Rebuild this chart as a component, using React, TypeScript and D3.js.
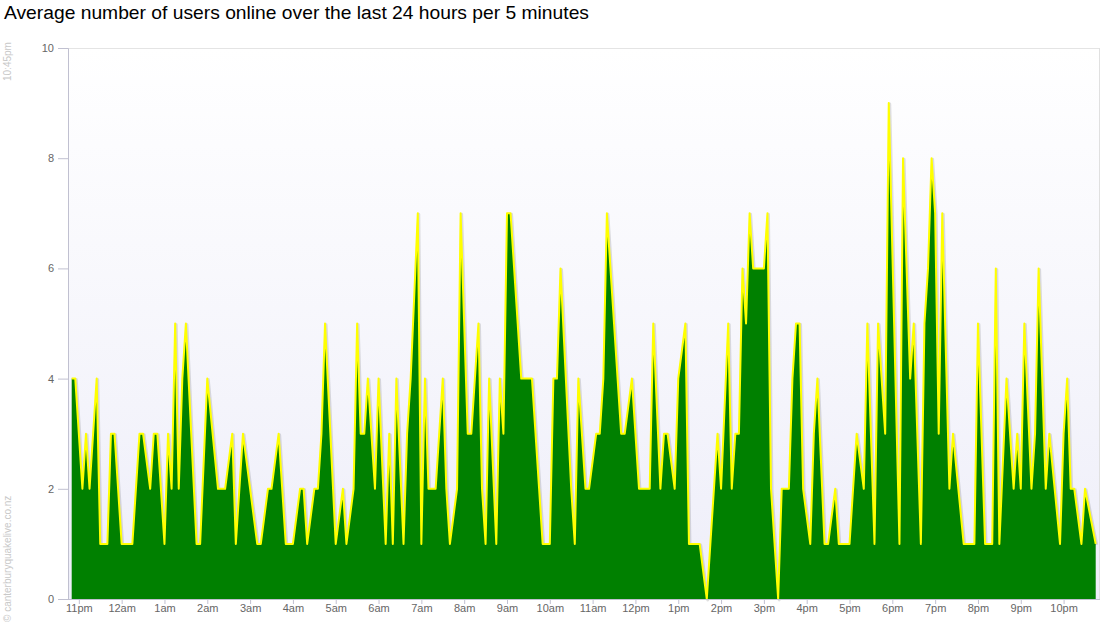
import React, { useEffect, useRef } from 'react';
import * as d3 from 'd3';

// 5-minute interval index counted from 10:50pm, and the average users read at that interval
const slots = [0, 1, 3, 4, 5, 7, 8, 10, 11, 12, 14, 17, 19, 20, 22, 23, 24, 26, 27, 28, 29, 30, 31, 32, 35, 36, 38, 41, 43, 45, 46, 48, 52, 53, 55, 56, 58, 60, 62, 64, 65, 66, 68, 69, 70, 71, 74, 76, 77, 79, 80, 81, 82, 83, 85, 86, 88, 89, 90, 91, 93, 94, 95, 97, 98, 99, 100, 102, 104, 105, 106, 108, 109, 111, 112, 114, 115, 116, 117, 119, 120, 121, 122, 123, 126, 129, 131, 132, 134, 135, 136, 137, 140, 141, 142, 144, 145, 147, 148, 149, 150, 152, 154, 155, 157, 159, 162, 163, 165, 166, 167, 169, 170, 172, 173, 176, 178, 179, 181, 182, 184, 185, 186, 187, 188, 189, 190, 191, 194, 195, 196, 198, 199, 201, 202, 203, 204, 205, 207, 208, 209, 211, 212, 214, 215, 218, 219, 220, 222, 223, 225, 226, 228, 229, 232, 233, 235, 236, 238, 239, 240, 241, 242, 243, 244, 246, 247, 250, 253, 254, 256, 258, 259, 260, 262, 264, 265, 266, 267, 269, 270, 271, 273, 274, 277, 278, 279, 280, 281, 283, 284, 287];
const users = [4, 4, 2, 3, 2, 4, 1, 1, 3, 3, 1, 1, 3, 3, 2, 3, 3, 1, 3, 2, 5, 2, 4, 5, 1, 1, 4, 2, 2, 3, 1, 3, 1, 1, 2, 2, 3, 1, 1, 2, 2, 1, 2, 2, 3, 5, 1, 2, 1, 2, 5, 3, 3, 4, 2, 4, 1, 3, 1, 4, 1, 3, 4, 7, 1, 4, 2, 2, 4, 2, 1, 2, 7, 3, 3, 5, 2, 1, 4, 1, 4, 3, 7, 7, 4, 4, 2, 1, 1, 4, 4, 6, 2, 1, 4, 2, 2, 3, 3, 4, 7, 5, 3, 3, 4, 2, 2, 5, 2, 3, 3, 2, 4, 5, 1, 1, 0, 1, 3, 2, 5, 2, 3, 3, 6, 5, 7, 6, 6, 7, 2, 0, 2, 2, 4, 5, 5, 2, 1, 3, 4, 1, 1, 2, 1, 1, 2, 3, 2, 5, 1, 5, 3, 9, 1, 8, 4, 5, 1, 5, 6, 8, 7, 3, 7, 2, 3, 1, 1, 5, 1, 1, 6, 1, 4, 2, 3, 2, 5, 2, 3, 6, 2, 3, 1, 3, 4, 2, 2, 1, 2, 1];
const yTicks = [0, 2, 4, 6, 8, 10];

const title = 'Average number of users online over the last 24 hours per 5 minutes';
const start = new Date(2011, 1, 21, 22, 50);
const stepMs = 5 * 60 * 1000;

const hourLabel = (d: Date) => {
  const h = d.getHours();
  return `${h % 12 || 12}${h < 12 ? 'am' : 'pm'}`;
};

const App: React.FC = () => {
  const svgRef = useRef<SVGSVGElement>(null);
  const width = 1100;
  const height = 640;

  useEffect(() => {
    if (!svgRef.current) return;
    const svg = d3.select(svgRef.current);
    svg.selectAll('*').remove();

    const plot = { left: 68, right: 1100, top: 48, bottom: 599 };
    const data = slots.map((s, i) => ({ t: new Date(start.getTime() + s * stepMs), v: users[i] }));

    const x = d3.scaleTime()
      .domain([start, new Date(start.getTime() + 287 * stepMs)])
      .range([71.7, 1095.7]);
    const y = d3.scaleLinear().domain([0, 10]).range([plot.bottom, plot.top]);

    const font = '"Liberation Sans", Arial, sans-serif';

    // background gradient
    const grad = svg.append('defs').append('linearGradient')
      .attr('id', 'bg').attr('x1', 0).attr('y1', 0).attr('x2', 0).attr('y2', 1);
    grad.append('stop').attr('offset', '0%').attr('stop-color', '#ffffff');
    grad.append('stop').attr('offset', '100%').attr('stop-color', '#eeeef9');

    svg.append('rect')
      .attr('x', plot.left).attr('y', plot.top)
      .attr('width', plot.right - plot.left).attr('height', plot.bottom - plot.top)
      .attr('fill', 'url(#bg)');

    // top grid line and right border
    svg.append('line')
      .attr('x1', plot.left).attr('x2', plot.right)
      .attr('y1', y(10) + 0.5).attr('y2', y(10) + 0.5)
      .attr('stroke', '#e4e4e4');
    svg.append('line')
      .attr('x1', plot.right - 0.5).attr('x2', plot.right - 0.5)
      .attr('y1', plot.top).attr('y2', plot.bottom)
      .attr('stroke', '#e0e0e0');

    const line = d3.line<{ t: Date; v: number }>().x(d => x(d.t)).y(d => y(d.v));
    const area = d3.area<{ t: Date; v: number }>().x(d => x(d.t)).y0(y(0)).y1(d => y(d.v));

    // line shadow
    svg.append('path')
      .attr('d', line(data) || '')
      .attr('fill', 'none')
      .attr('stroke', '#000')
      .attr('stroke-opacity', 0.12)
      .attr('stroke-width', 3)
      .attr('stroke-linejoin', 'round')
      .attr('transform', 'translate(1,1)');

    svg.append('path')
      .attr('d', area(data) || '')
      .attr('fill', '#008000');

    svg.append('path')
      .attr('d', line(data) || '')
      .attr('fill', 'none')
      .attr('stroke', '#ffff00')
      .attr('stroke-width', 2)
      .attr('stroke-linejoin', 'round');

    // y axis
    const yAxis = svg.append('g').attr('transform', `translate(${plot.left},0)`)
      .call(d3.axisLeft(y).tickValues(yTicks).tickSize(10).tickPadding(4));
    yAxis.select('.domain').attr('stroke', '#c0c0d0');
    yAxis.selectAll('.tick line').attr('stroke', '#c0c0d0');
    yAxis.selectAll('.tick text')
      .attr('fill', '#666').style('font-family', font).style('font-size', '11px');

    // x axis
    const xAxis = svg.append('g').attr('transform', `translate(0,${plot.bottom})`)
      .call(d3.axisBottom(x).ticks(d3.timeHour.every(1)).tickFormat(d => hourLabel(d as Date)).tickSize(5).tickPadding(0).tickSizeOuter(0));
    xAxis.select('.domain').attr('stroke', '#c0c0d0').attr('d', `M${plot.left},0.5H${plot.right}`);
    xAxis.selectAll('.tick line').attr('stroke', '#c0c0d0');
    xAxis.selectAll('.tick text')
      .attr('fill', '#666').style('font-family', font).style('font-size', '11px');

    // title
    svg.append('text')
      .attr('x', 4).attr('y', 19)
      .style('font-family', font).style('font-size', '19.25px')
      .attr('fill', '#000')
      .text(title);

    // side notes
    svg.append('text')
      .attr('transform', 'translate(11,81) rotate(-90)')
      .style('font-family', font).style('font-size', '10px')
      .attr('fill', '#c8c8c8')
      .text('10:45pm');
    svg.append('text')
      .attr('transform', 'translate(11,622) rotate(-90)')
      .style('font-family', font).style('font-size', '10px')
      .attr('fill', '#c8c8c8')
      .text('© canterburyquakelive.co.nz');
  }, []);

  return (
    <div style={{ position: 'absolute', left: 0, top: 0, width, height, background: '#fff' }}>
      <svg ref={svgRef} width={width} height={height} />
    </div>
  );
};

export default App;
